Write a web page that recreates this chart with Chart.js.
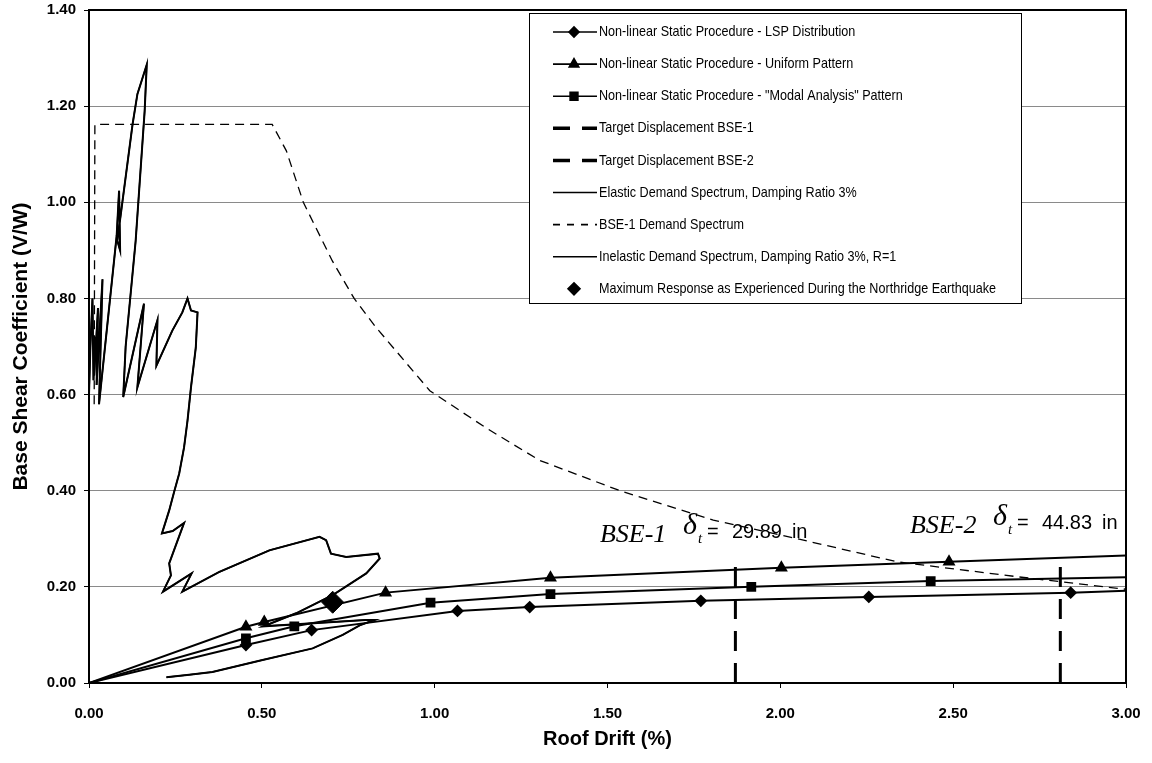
<!DOCTYPE html>
<html>
<head>
<meta charset="utf-8">
<script src="https://cdn.jsdelivr.net/npm/chart.js@4.4.1/dist/chart.umd.min.js"></script>
<style>
  body { margin: 0; background: #fff; }
  canvas { display: block; }
</style>
</head>
<body>
<canvas id="chart" width="1152" height="763"></canvas>
<script>
// Pushover curves (roof drift %, V/W)
const lspX = [0, 0.454, 0.644, 1.066, 1.275, 1.77, 2.256, 2.84, 3.0];
const lspY = [0, 0.079, 0.110, 0.150, 0.158, 0.171, 0.179, 0.188, 0.192];
const uniformX = [0, 0.454, 0.507, 0.858, 1.335, 2.003, 2.488, 3.0];
const uniformY = [0, 0.117, 0.127, 0.188, 0.219, 0.240, 0.252, 0.265];
const modalX = [0, 0.454, 0.594, 0.988, 1.335, 1.916, 2.435, 3.0];
const modalY = [0, 0.093, 0.118, 0.167, 0.185, 0.200, 0.212, 0.220];

// Target displacements
const bse1TargetX = [1.87, 1.87];
const bse1TargetY = [0, 0.26];
const bse2TargetX = [2.81, 2.81];
const bse2TargetY = [0, 0.26];

// Northridge demand spectrum, 3% damping (ADRS trace)
const spectrumX = [0, 0.004, 0.010, 0.013, 0.018, 0.015, 0.026, 0.022, 0.039, 0.029,
  0.080, 0.087, 0.090, 0.082, 0.126, 0.140, 0.167, 0.161, 0.135, 0.106, 0.099,
  0.159, 0.140, 0.198, 0.195, 0.241, 0.270, 0.285, 0.295, 0.314, 0.309, 0.295,
  0.285, 0.275, 0.261, 0.246, 0.232, 0.211, 0.242, 0.275, 0.232, 0.237, 0.214,
  0.297, 0.270, 0.377, 0.522, 0.667, 0.686, 0.700, 0.744, 0.836, 0.841, 0.802,
  0.705, 0.599, 0.505, 0.800, 0.826, 0.783, 0.734, 0.647, 0.502, 0.357, 0.290, 0.224];
const spectrumY = [0.60, 0.70, 0.80, 0.63, 0.72, 0.64, 0.78, 0.62, 0.84, 0.58,
  0.93, 1.024, 0.90, 0.92, 1.162, 1.225, 1.286, 1.19, 0.92, 0.70, 0.595,
  0.789, 0.615, 0.755, 0.66, 0.733, 0.771, 0.80, 0.775, 0.771, 0.698, 0.615,
  0.546, 0.49, 0.436, 0.397, 0.359, 0.311, 0.316, 0.333, 0.249, 0.224, 0.19,
  0.228, 0.19, 0.231, 0.276, 0.304, 0.297, 0.269, 0.262, 0.269, 0.259, 0.228,
  0.183, 0.145, 0.118, 0.131, 0.131, 0.12, 0.10, 0.072, 0.048, 0.023, 0.017, 0.012];

// BSE-1 design spectrum
const bse1SpecX = [0.015, 0.017, 0.53, 0.571, 0.62, 0.704, 0.767, 0.83, 0.986, 1.15, 1.304, 1.536, 1.806, 2.05, 2.338, 2.686, 3.0];
const bse1SpecY = [0.58, 1.162, 1.162, 1.107, 1.0, 0.878, 0.80, 0.74, 0.608, 0.53, 0.463, 0.40, 0.339, 0.30, 0.252, 0.221, 0.195];

// Max response during Northridge
const maxRespX = [0.705];
const maxRespY = [0.168];

const yTicks = [0, 0.2, 0.4, 0.6, 0.8, 1.0, 1.2, 1.4];

const pts = (xs, ys) => xs.map((x, i) => ({ x: x, y: ys[i] }));
// no marker at the origin or at the clipped end
const markers = (xs, r) => xs.map((x, i) => (i === 0 || i === xs.length - 1) ? 0 : r);

const datasets = [
  { label: 'Non-linear Static Procedure - LSP Distribution', data: pts(lspX, lspY),
    borderColor: '#000', backgroundColor: '#000', borderWidth: 2, pointStyle: 'rectRot',
    pointRadius: markers(lspX, 5), legendMarker: 5 },
  { label: 'Non-linear Static Procedure - Uniform Pattern', data: pts(uniformX, uniformY),
    borderColor: '#000', backgroundColor: '#000', borderWidth: 2, pointStyle: 'triangle',
    pointRadius: markers(uniformX, 5.5), legendMarker: 5.5 },
  { label: 'Non-linear Static Procedure - "Modal Analysis" Pattern', data: pts(modalX, modalY),
    borderColor: '#000', backgroundColor: '#000', borderWidth: 2, pointStyle: 'rect',
    pointRadius: markers(modalX, 5.5), legendMarker: 5.5 },
  { label: 'Target Displacement BSE-1', data: pts(bse1TargetX, bse1TargetY),
    borderColor: '#000', borderWidth: 3, borderDash: [20, 12], pointRadius: 0, legendDash: [17, 12], legendWidth: 3.5 },
  { label: 'Target Displacement BSE-2', data: pts(bse2TargetX, bse2TargetY),
    borderColor: '#000', borderWidth: 3, borderDash: [20, 12], pointRadius: 0, legendDash: [17, 12], legendWidth: 3.5 },
  { label: 'Elastic Demand Spectrum, Damping Ratio 3%', data: pts(spectrumX, spectrumY),
    borderColor: '#000', borderWidth: 1.5, pointRadius: 0 },
  { label: 'BSE-1 Demand Spectrum', data: pts(bse1SpecX, bse1SpecY),
    borderColor: '#000', borderWidth: 1.3, borderDash: [9, 6], pointRadius: 0, legendDash: [7, 7] },
  { label: 'Inelastic Demand Spectrum, Damping Ratio 3%, R=1', data: pts(spectrumX, spectrumY),
    borderColor: '#000', borderWidth: 2, pointRadius: 0 },
  { label: 'Maximum Response as Experienced During the Northridge Earthquake', data: pts(maxRespX, maxRespY),
    borderColor: '#000', backgroundColor: '#000', showLine: false, pointStyle: 'rectRot',
    pointRadius: 11, legendMarker: 6, noLine: true }
];
datasets.forEach(d => { if (d.showLine !== false) d.showLine = true; d.tension = 0; d.pointHoverRadius = 0; });

// fixed axis boxes, no label overhang padding
const fixBox = size => s => {
  if (s.isHorizontal()) s.height = size; else s.width = size;
  s.paddingTop = 0; s.paddingBottom = 0; s.paddingLeft = 0; s.paddingRight = 0;
};

// legend box inside the plot + top/right frame + text notes
const extras = {
  id: 'extras',
  afterDatasetsDraw(chart) {
    const ctx = chart.ctx;
    const a = chart.chartArea;
    const sx = chart.scales.x, sy = chart.scales.y;
    ctx.save();
    // frame
    ctx.strokeStyle = '#000';
    ctx.lineWidth = 2;
    ctx.strokeRect(a.left, a.top, a.right - a.left, a.bottom - a.top);

    // legend
    const lx = 529, ly = 13, lw = 492, lh = 290;
    ctx.fillStyle = '#fff';
    ctx.fillRect(lx, ly, lw, lh);
    ctx.lineWidth = 1;
    ctx.strokeRect(lx + 0.5, ly + 0.5, lw, lh);
    chart.data.datasets.forEach((d, i) => {
      const cy = 32 + i * 32.1;
      ctx.fillStyle = '#000';
      ctx.strokeStyle = '#000';
      if (!d.noLine) {
        ctx.beginPath();
        ctx.setLineDash(d.legendDash || []);
        ctx.lineWidth = d.legendWidth || 1.6;
        ctx.moveTo(553, cy);
        ctx.lineTo(597, cy);
        ctx.stroke();
        ctx.setLineDash([]);
      }
      if (d.legendMarker) {
        Chart.helpers.drawPoint(ctx, { pointStyle: d.pointStyle, radius: d.legendMarker, borderWidth: 1 }, 574, cy);
      }
      ctx.font = '15px "Liberation Sans", Arial, sans-serif';
      ctx.textBaseline = 'middle';
      ctx.textAlign = 'left';
      ctx.save();
      ctx.translate(599, cy);
      ctx.scale(0.84, 1);
      ctx.fillText(d.label, 0, 0);
      ctx.restore();
    });

    // target displacement notes
    const note = (name, x0, yb, val) => {
      ctx.fillStyle = '#000';
      ctx.textBaseline = 'alphabetic';
      ctx.textAlign = 'left';
      ctx.font = 'italic 26px "Liberation Serif", "Times New Roman", serif';
      ctx.fillText(name, x0, yb);
      ctx.font = 'italic 30px "Liberation Serif", serif';
      ctx.fillText('\u03b4', x0 + 83, yb - 8);
      ctx.font = 'italic 15px "Liberation Serif", serif';
      ctx.fillText('t', x0 + 98, yb + 1);
      ctx.font = '20px "Liberation Sans", Arial, sans-serif';
      ctx.fillText('=', x0 + 107, yb - 4);
      ctx.fillText(val, x0 + 132, yb - 4);
      ctx.fillText('in', x0 + 192, yb - 4);
    };
    note('BSE-1', sx.getPixelForValue(1.478), sy.getPixelForValue(0.293), '29.89');
    note('BSE-2', sx.getPixelForValue(2.375), sy.getPixelForValue(0.312), '44.83');
    ctx.restore();
  }
};

new Chart(document.getElementById('chart'), {
  type: 'scatter',
  data: { datasets: datasets },
  options: {
    responsive: false,
    animation: false,
    events: [],
    layout: { autoPadding: false, padding: { top: 10, right: 26, left: 0, bottom: 0 } },
    plugins: { legend: { display: false }, tooltip: { enabled: false } },
    scales: {
      x: {
        type: 'linear', min: 0, max: 3,
        afterFit: fixBox(80),
        border: { display: true, color: '#000', width: 2 },
        grid: { drawOnChartArea: false, drawTicks: true, tickLength: 5, tickColor: '#000' },
        ticks: { stepSize: 0.5, padding: 17, color: '#000',
          font: { family: '"Liberation Sans", Arial, sans-serif', size: 15, weight: 'bold' },
          callback: v => v.toFixed(2) },
        title: { display: true, text: 'Roof Drift (%)', color: '#000',
          font: { family: '"Liberation Sans", Arial, sans-serif', size: 20, weight: 'bold' },
          padding: { top: 0, bottom: 12 } }
      },
      y: {
        type: 'linear', min: 0, max: 1.4,
        afterFit: fixBox(89),
        afterBuildTicks: s => { s.ticks = yTicks.map(v => ({ value: v })); },
        border: { display: true, color: '#000', width: 2 },
        grid: { color: '#8a8a8a', lineWidth: 1, tickLength: 5, tickColor: '#000' },
        ticks: { padding: 8, color: '#000',
          font: { family: '"Liberation Sans", Arial, sans-serif', size: 15, weight: 'bold' },
          callback: v => v.toFixed(2) },
        title: { display: true, text: 'Base Shear Coefficient (V/W)', color: '#000',
          font: { family: '"Liberation Sans", Arial, sans-serif', size: 21, weight: 'bold' },
          padding: { top: 9, bottom: 0 } }
      }
    }
  },
  plugins: [extras]
});
</script>
</body>
</html>
